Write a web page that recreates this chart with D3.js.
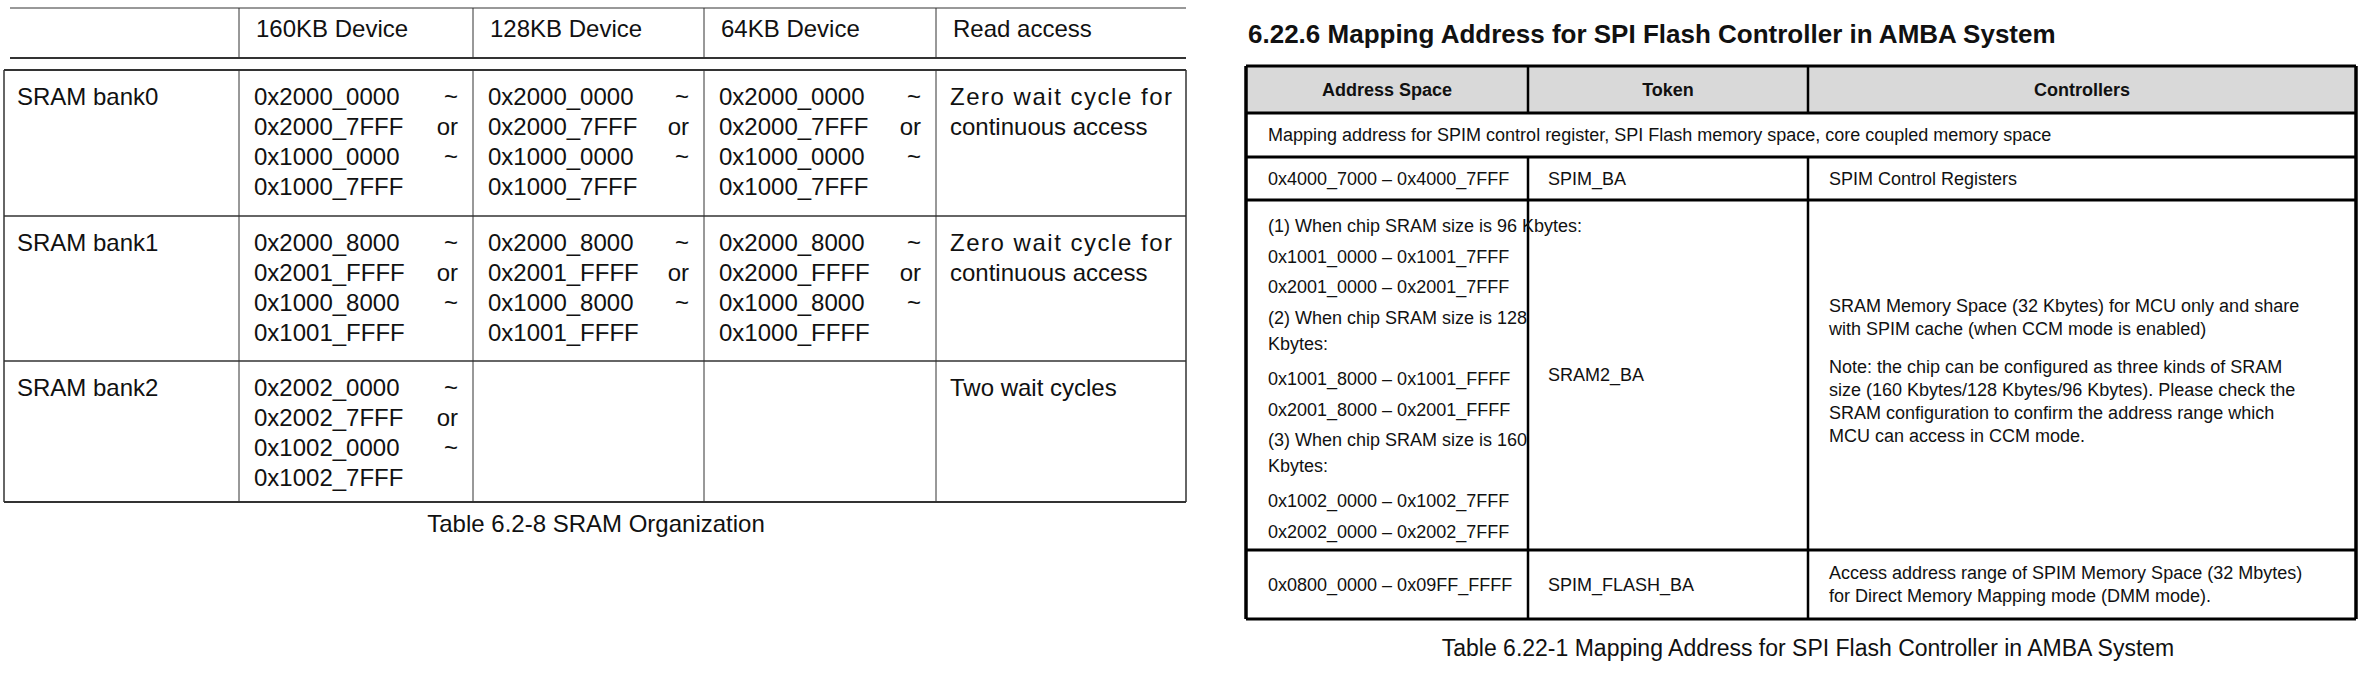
<!DOCTYPE html>
<html>
<head>
<meta charset="utf-8">
<style>
  body { margin: 0; background: #fff; }
  text { font-family: "Liberation Sans", Arial, sans-serif; fill: #111; }
</style>
</head>
<body>
<svg id="container" width="2378" height="680"></svg>
<script src="https://cdn.jsdelivr.net/npm/d3@7"></script>
<script>
// ---- left table data ----
const sramHeaders = ["", "160KB Device", "128KB Device", "64KB Device", "Read access"]
const sramBanks = ["SRAM bank0", "SRAM bank1", "SRAM bank2"]
const dev160 = [
  ["0x2000_0000", "0x2000_7FFF", "0x1000_0000", "0x1000_7FFF"],
  ["0x2000_8000", "0x2001_FFFF", "0x1000_8000", "0x1001_FFFF"],
  ["0x2002_0000", "0x2002_7FFF", "0x1002_0000", "0x1002_7FFF"]]
const dev128 = [
  ["0x2000_0000", "0x2000_7FFF", "0x1000_0000", "0x1000_7FFF"],
  ["0x2000_8000", "0x2001_FFFF", "0x1000_8000", "0x1001_FFFF"],
  null]
const dev64 = [
  ["0x2000_0000", "0x2000_7FFF", "0x1000_0000", "0x1000_7FFF"],
  ["0x2000_8000", "0x2000_FFFF", "0x1000_8000", "0x1000_FFFF"],
  null]
const readAccess = [["Zero wait cycle for", "continuous access"], ["Zero wait cycle for", "continuous access"], ["Two wait cycles"]]
const joiners = ["~", "or", "~", ""]
const leftCaption = "Table 6.2-8 SRAM Organization"

// ---- right table data ----
const rightTitle = "6.22.6   Mapping Address for SPI Flash Controller in AMBA System"
const mapHeaders = ["Address Space", "Token", "Controllers"]
const mapSpanRow = "Mapping address for SPIM control register, SPI Flash memory space, core coupled memory space"
const mapAddress = [
  [["0x4000_7000 – 0x4000_7FFF", 0]],
  [["(1) When chip SRAM size is 96 Kbytes:", 0], ["0x1001_0000 – 0x1001_7FFF", 1], ["0x2001_0000 – 0x2001_7FFF", 2],
   ["(2) When chip SRAM size is 128", 3], ["Kbytes:", 3.85], ["0x1001_8000 – 0x1001_FFFF", 5], ["0x2001_8000 – 0x2001_FFFF", 6],
   ["(3) When chip SRAM size is 160", 7], ["Kbytes:", 7.85], ["0x1002_0000 – 0x1002_7FFF", 9], ["0x2002_0000 – 0x2002_7FFF", 10]],
  [["0x0800_0000 – 0x09FF_FFFF", 0]]]
const mapToken = ["SPIM_BA", "SRAM2_BA", "SPIM_FLASH_BA"]
const mapCtrl = [
  ["SPIM Control Registers"],
  ["SRAM Memory Space (32 Kbytes) for MCU only and share", "with SPIM cache (when CCM mode is enabled)", "",
   "Note: the chip can be configured as three kinds of SRAM", "size (160 Kbytes/128 Kbytes/96 Kbytes). Please check the",
   "SRAM configuration to confirm the address range which", "MCU can access in CCM mode."],
  ["Access address range of SPIM Memory Space (32 Mbytes)", "for Direct Memory Mapping mode (DMM mode)."]]
const rightCaption = "Table 6.22-1 Mapping Address for SPI Flash Controller in AMBA System"

const svg = d3.select("#container")

// ===== left table =====
const lx = d3.scaleOrdinal().domain(d3.range(6)).range([4, 239, 473, 704, 936, 1186])
const ly = d3.scaleOrdinal().domain(d3.range(4)).range([70, 216, 361, 502])
const L = svg.append("g")

// header
L.append("line").attr("x1", 10).attr("x2", lx(5)).attr("y1", 8).attr("y2", 8).attr("stroke", "#333")
L.append("line").attr("x1", 10).attr("x2", lx(5)).attr("y1", 58).attr("y2", 58).attr("stroke", "#333").attr("stroke-width", 2)
d3.range(1, 5).forEach(i => L.append("line").attr("x1", lx(i)).attr("x2", lx(i)).attr("y1", 8).attr("y2", 58).attr("stroke", "#333"))
L.selectAll(".hd").data(sramHeaders).join("text")
  .attr("x", (d, i) => lx(i) + 17).attr("y", 37).attr("font-size", 24).text(d => d)

// body grid
d3.range(4).forEach(r => L.append("line").attr("x1", lx(0)).attr("x2", lx(5)).attr("y1", ly(r)).attr("y2", ly(r))
  .attr("stroke", "#333").attr("stroke-width", r == 0 || r == 3 ? 2 : 1.5))
d3.range(6).forEach(c => L.append("line").attr("x1", lx(c)).attr("x2", lx(c)).attr("y1", ly(0)).attr("y2", ly(3))
  .attr("stroke", "#333").attr("stroke-width", c == 0 || c == 5 ? 1.5 : 1))

const lineH = 30
sramBanks.forEach((b, r) => {
  const y0 = ly(r) + 35
  L.append("text").attr("x", lx(0) + 13).attr("y", y0).attr("font-size", 24).text(b)
  ;[dev160, dev128, dev64].forEach((dev, c) => {
    if (!dev[r]) return
    dev[r].forEach((a, k) => {
      L.append("text").attr("x", lx(c + 1) + 15).attr("y", y0 + k * lineH).attr("font-size", 24).text(a)
      L.append("text").attr("x", lx(c + 2) - 15).attr("y", y0 + k * lineH).attr("font-size", 24)
        .attr("text-anchor", "end").text(joiners[k])
    })
  })
  readAccess[r].forEach((t, k) => L.append("text").attr("x", lx(4) + 14).attr("y", y0 + k * lineH)
    .attr("font-size", 24).attr("textLength", t.startsWith("Zero") ? 222 : null).text(t))
})
L.append("text").attr("x", (lx(0) + lx(5)) / 2 + 1).attr("y", 532).attr("font-size", 24)
  .attr("text-anchor", "middle").text(leftCaption)

// ===== right table =====
const rx = d3.scaleOrdinal().domain(d3.range(4)).range([1246, 1528, 1808, 2356])
const ry = d3.scaleOrdinal().domain(d3.range(6)).range([66, 113, 157, 200, 550, 619])
const R = svg.append("g")

R.append("text").attr("x", 1248).attr("y", 43).attr("font-size", 26).attr("font-weight", "bold").text(rightTitle)
R.append("rect").attr("x", rx(0)).attr("y", ry(0)).attr("width", rx(3) - rx(0)).attr("height", ry(1) - ry(0)).attr("fill", "#d9d9d9")
d3.range(6).forEach(r => R.append("line").attr("x1", rx(0)).attr("x2", rx(3)).attr("y1", ry(r)).attr("y2", ry(r))
  .attr("stroke", "#000").attr("stroke-width", 3))
;[0, 3].forEach(c => R.append("line").attr("x1", rx(c)).attr("x2", rx(c)).attr("y1", ry(0)).attr("y2", ry(5))
  .attr("stroke", "#000").attr("stroke-width", 3.5))
;[1, 2].forEach(c => {
  R.append("line").attr("x1", rx(c)).attr("x2", rx(c)).attr("y1", ry(0)).attr("y2", ry(1)).attr("stroke", "#000").attr("stroke-width", 2.5)
  R.append("line").attr("x1", rx(c)).attr("x2", rx(c)).attr("y1", ry(2)).attr("y2", ry(5)).attr("stroke", "#000").attr("stroke-width", 2.5)
})
R.selectAll(".rh").data(mapHeaders).join("text")
  .attr("x", (d, i) => (rx(i) + rx(i + 1)) / 2).attr("y", 96).attr("font-size", 18).attr("font-weight", "bold")
  .attr("text-anchor", "middle").text(d => d)
R.append("text").attr("x", rx(0) + 22).attr("y", (ry(1) + ry(2)) / 2 + 6).attr("font-size", 18).text(mapSpanRow)

const rowMid = d3.range(3).map(i => (ry(i + 2) + ry(i + 3)) / 2)
const sub = 30.6
mapAddress.forEach((lines, i) => {
  const top = i == 1 ? ry(3) + 32 : rowMid[i] + 6
  lines.forEach(([t, k]) => R.append("text").attr("x", rx(0) + 22).attr("y", top + k * sub).attr("font-size", 18).text(t))
  R.append("text").attr("x", rx(1) + 20).attr("y", rowMid[i] + 6).attr("font-size", 18).text(mapToken[i])
  const n = mapCtrl[i].length, lh = 23
  const start = rowMid[i] + 6 - (n - 1) * lh / 2
  mapCtrl[i].forEach((t, k) => R.append("text").attr("x", rx(2) + 21).attr("y", start + k * lh + (k >= 3 && i == 1 ? -8 : 0))
    .attr("font-size", 18).text(t))
})
R.append("text").attr("x", 1808).attr("y", 656).attr("font-size", 23).attr("text-anchor", "middle").text(rightCaption)
</script>
</body>
</html>
